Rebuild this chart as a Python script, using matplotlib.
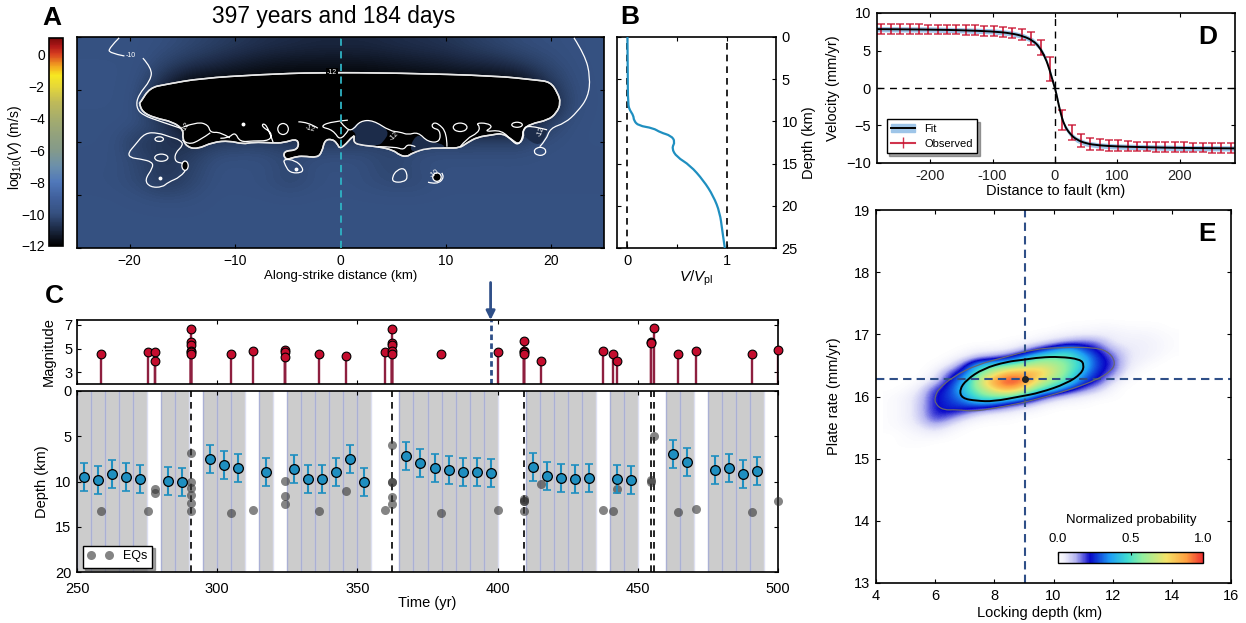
import numpy as np
import matplotlib
matplotlib.use("Agg")
import matplotlib.pyplot as plt
from matplotlib.colors import LinearSegmentedColormap
from matplotlib.lines import Line2D
from matplotlib.patches import Ellipse, Patch, PathPatch
from matplotlib.path import Path

plt.rcParams["font.family"] = ["Liberation Sans", "DejaVu Sans"]
plt.rcParams["mathtext.fontset"] = "custom"
plt.rcParams["mathtext.rm"] = "Liberation Sans"
plt.rcParams["mathtext.it"] = "Liberation Sans:italic"
plt.rcParams["font.size"] = 10.5
plt.rcParams["axes.linewidth"] = 1.2
plt.rcParams["xtick.direction"] = "in"
plt.rcParams["ytick.direction"] = "in"

W, H = 1246, 623

# panel A: log10(V) on a coarse grid, rows = depth, cols = along strike
a_xs = np.arange(-25, 25.1, 2.5)
a_ds = np.arange(0, 25.1, 2.5)
a_field = [
    [-9.9,-9.9,-9.9,-10.,-10.2,-10.4,-10.6,-10.8,-10.9,-11.,-11.,-11.,-10.9,-10.8,-10.7,-10.5,-10.3,-10.1,-10.,-9.95,-9.9],
    [-9.85,-9.85,-9.9,-10.3,-10.7,-11.,-11.3,-11.5,-11.6,-11.6,-11.6,-11.6,-11.5,-11.4,-11.3,-11.1,-11.,-10.7,-10.3,-10.,-9.9],
    [-9.85,-9.85,-9.95,-11.,-12.,-12.,-12.,-12.,-12.,-12.,-12.,-12.,-12.,-12.,-12.,-12.,-12.,-12.,-11.,-10.1,-9.9],
    [-9.85,-9.85,-10.,-12.,-12.,-12.,-12.,-12.,-12.,-12.,-12.,-12.,-12.,-12.,-12.,-12.,-12.,-12.,-12.,-10.2,-9.9],
    [-9.9,-9.9,-9.95,-10.4,-12.,-12.,-12.,-12.,-12.,-12.,-12.,-12.,-12.,-12.,-12.,-12.,-12.,-12.,-10.6,-10.,-9.9],
    [-9.9,-9.95,-10.6,-10.7,-10.8,-10.4,-10.3,-10.3,-10.5,-10.4,-10.4,-10.3,-10.3,-10.3,-10.2,-10.3,-10.2,-10.3,-10.,-9.95,-9.9],
    [-9.95,-9.95,-10.2,-10.7,-10.4,-9.95,-9.95,-9.95,-10.2,-9.95,-9.95,-10.,-10.3,-10.,-9.95,-9.95,-9.95,-9.95,-9.95,-9.95,-9.95],
    [-9.95,-10.,-10.2,-10.7,-10.3,-9.95,-9.95,-10.,-10.3,-10.,-9.95,-10.05,-10.2,-10.2,-9.95,-9.95,-9.95,-9.95,-9.95,-9.95,-9.95],
    [-9.9,-9.9,-9.95,-10.,-10.,-9.9,-9.9,-9.9,-9.9,-9.9,-9.9,-9.9,-9.9,-9.9,-9.9,-9.9,-9.9,-9.9,-9.9,-9.9,-9.9],
    [-9.9,-9.9,-9.9,-9.9,-9.9,-9.9,-9.9,-9.9,-9.9,-9.9,-9.9,-9.9,-9.9,-9.9,-9.9,-9.9,-9.9,-9.9,-9.9,-9.9,-9.9],
    [-9.9,-9.9,-9.9,-9.9,-9.9,-9.9,-9.9,-9.9,-9.9,-9.9,-9.9,-9.9,-9.9,-9.9,-9.9,-9.9,-9.9,-9.9,-9.9,-9.9,-9.9],
]

# locked patch outline (km, depth)
a_black = [(-19.0,7.8),(-18.1,6.0),(-16.5,5.6),(-13.3,4.9),(-7.6,4.45),(-2.1,4.2),(5.6,4.27),(14.8,4.6),
           (18.5,5.1),(19.9,5.3),(20.6,6.6),(20.9,7.8),(20.5,9.0),(19.7,9.85),(18.0,10.3),(17.3,11.0),
           (17.4,11.85),(16.9,12.8),(16.1,12.0),(15.3,11.4),(14.4,11.6),(13.0,11.85),(12.0,12.55),(11.3,13.15),
           (10.1,13.15),(8.2,13.15),(6.8,13.75),(6.3,14.2),(5.6,14.0),(5.0,13.4),(3.6,13.0),(1.85,12.8),
           (1.2,12.45),(1.4,11.4),(0.0,13.4),(-0.35,12.55),(-0.8,12.1),(-1.5,12.2),(-1.75,13.6),(-2.2,14.3),
           (-3.55,14.1),(-4.3,14.2),(-5.25,14.6),(-5.45,13.5),(-4.0,13.4),(-4.0,12.0),(-5.45,12.55),(-6.4,12.55),
           (-8.3,12.45),(-9.25,12.7),(-10.5,12.3),(-12.1,12.45),(-13.6,13.3),(-14.6,13.0),(-15.0,12.0),(-14.9,11.0),
           (-15.9,10.05),(-17.6,9.6),(-18.8,8.9),(-19.1,7.8),(-19.0,7.8)]
a_pockets = [
    [(0.9,11.0),(1.85,9.95),(3.1,9.85),(4.7,11.15),(4.05,12.45),(3.55,12.9),(1.85,12.8),(1.3,12.45),(1.5,11.4),(0.9,11.0)],
    [(6.6,12.8),(7.35,11.4),(8.3,12.45),(9.45,12.55),(10.1,13.15),(8.2,13.15),(6.8,13.75),(6.6,12.8)],
    [(17.3,11.0),(17.8,10.4),(19.6,10.8),(19.6,11.4),(18.9,13.0),(17.5,11.95),(17.3,11.0)],
]
a_lines = [
    [(-21.0,0.1),(-21.95,1.3),(-21.95,1.9),(-20.5,2.25)],
    [(-18.75,2.5),(-17.9,3.7),(-18.0,5.1),(-19.2,6.9),(-19.4,8.3),(-18.8,9.25),(-17.0,10.05),(-15.2,10.8)],
    [(22.15,0.1),(23.2,2.15),(23.7,4.75),(23.5,7.1),(22.45,8.9),(21.3,10.2),(19.9,10.8),(19.5,12.2),(18.9,13.0)],
    [(18.3,13.6),(18.6,13.1),(19.2,13.05),(19.55,13.5),(19.3,14.0),(18.7,14.05),(18.3,13.6)],
    [(-14.9,10.65),(-13.6,10.05),(-12.55,10.4),(-12.35,11.35),(-11.4,11.25),(-10.5,11.95)],
    [(-15.0,12.2),(-14.45,12.8),(-13.3,12.2),(-12.35,11.35)],
    [(-11.4,12.0),(-10.65,12.0),(-10.0,11.25),(-9.55,12.45),(-8.3,12.3),(-6.7,12.3),(-6.5,11.35),(-7.45,10.65),(-7.35,10.2),(-6.9,10.65),(-6.4,12.45)],
    [(-4.0,10.05),(-3.1,10.05),(-2.15,10.8)],
    [(0.7,9.85),(-1.0,10.05),(-1.95,10.65),(-0.7,11.0),(0.05,12.45),(0.75,11.0)],
    [(0,10.05),(0.6,11.0),(1.2,11.0),(1.85,9.95),(3.1,9.85),(4.7,11.15),(5.65,11.25),(6.4,11.6),(7.35,11.25),(8.3,12.45),(9.45,12.45),(9.45,11.0),(8.7,10.8),(8.7,10.2),(9.25,10.2),(10.1,11.35),(10.1,13.0)],
    [(11.35,13.0),(12.0,12.0),(13.0,11.4),(13.25,10.65),(12.85,10.2),(13.9,10.2),(14.45,10.65),(13.6,11.25),(15.3,11.0),(16.35,12.45),(16.9,12.8),(17.3,11.85),(17.3,11.0),(17.8,10.4),(19.6,11.0)],
    [(-18.55,11.35),(-17.3,11.35),(-16.15,11.85),(-15.2,12.2),(-14.9,12.8),(-15.7,13.75),(-15.7,14.8),(-14.9,14.95),(-14.45,15.4),(-15.2,16.6),(-16.35,17.2),(-16.9,17.8),(-18.05,17.8),(-18.6,16.95),(-17.8,15.5),(-17.85,14.8),(-19.0,14.45),(-19.95,14.3),(-20.15,13.75),(-19.5,12.8),(-18.55,11.35)],
    [(-5.45,14.45),(-4.3,14.6),(-3.55,15.5),(-3.65,16.1),(-4.8,16.1),(-5.25,15.2),(-5.45,14.45)],
    [(4.9,16.6),(5.35,15.75),(6.1,15.5),(6.4,16.7),(5.95,17.2),(5.0,17.2),(4.9,16.6)],
    [(8.3,17.2),(9.15,17.5),(9.9,16.6),(9.6,16.1)],
    [(3.55,13.0),(5.2,13.0),(6.0,13.4),(6.4,12.6),(7.1,13.0)],
]
# ovals: x, depth, width, height, filled black?
a_ovals = [(-5.45,10.9,1.0,1.3,False),(11.35,10.7,1.3,1.0,False),(16.75,10.4,1.0,0.6,False),(-17.2,12.1,0.8,0.55,False),
           (-17.0,14.3,1.25,0.85,False),(-14.75,15.25,0.6,1.1,True),(9.15,16.6,0.8,1.0,True)]
a_dots = [(-17.1,16.7),(-4.2,15.65),(-9.25,10.3)]
a_labels = [("-10",-19.9,2.25,0),("-12",-0.8,4.2,0),("-12",-2.9,10.9,-15),("-12",5.1,11.8,45),("-12",19.05,11.2,70),("-10",8.9,16.2,40),("-12",-14.7,10.7,60)]

# panel B
b_depth = [0,4,8,8.7,9.3,9.9,10.5,10.8,11.3,11.7,12.4,13.2,14.2,15.2,17,18.85,20.8,23,25]
b_ratio = [0.0,0.003,0.005,0.025,0.06,0.065,0.11,0.26,0.33,0.44,0.48,0.445,0.495,0.63,0.765,0.865,0.93,0.955,0.98]

# panel C
band_starts = [250,255,260,265,270,280,285,295,300,305,315,325,330,335,340,345,350,365,370,375,380,385,390,395,
               410,415,420,425,430,440,445,460,465,475,480,485,490]
win_time = [252.5,257.5,262.5,267.5,272.5,282.5,287.5,297.5,302.5,307.5,317.5,327.5,332.5,337.5,342.5,347.5,352.5,
            367.5,372.5,377.5,382.5,387.5,392.5,397.5,412.5,417.5,422.5,427.5,432.5,442.5,447.5,462.5,467.5,477.5,482.5,487.5,492.5]
win_depth = [9.5,9.8,9.2,9.5,9.75,9.9,10.1,7.5,8.2,8.55,9.0,8.65,9.7,9.7,9.0,7.5,10.05,
             7.15,8.0,8.55,8.7,9.0,9.0,9.05,8.4,9.4,9.65,9.75,9.65,9.75,9.85,6.95,7.85,8.75,8.55,9.15,8.85]
win_err = 1.55
eq_time = [258.5,275.4,277.8,277.8,290.7,290.7,290.7,290.7,290.7,290.7,305,312.8,324.2,324.2,324.2,336.3,346,359.7,
           362.5,362.5,362.5,362.5,362.5,379.7,400.2,409.5,409.5,409.5,409.5,415.4,437.6,441.3,442.5,454.6,454.6,455.7,464.3,470.8,490.7,500]
eq_mag = [4.5,4.72,4.72,3.98,6.66,5.53,5.28,4.83,4.7,4.5,4.5,4.77,4.89,4.7,4.27,4.55,4.41,4.69,
          6.66,5.5,5.28,4.77,4.5,4.5,4.72,5.62,4.83,4.75,4.55,3.96,4.77,4.55,3.98,5.53,5.45,6.72,4.52,4.77,4.55,4.89]
eq_depth = [13.3,13.3,10.8,11.3,6.8,10.0,10.7,11.5,12.4,13.3,13.5,13.1,9.9,11.6,12.5,13.3,11.0,13.1,
            6.0,10.0,10.0,11.7,12.5,13.5,13.2,11.9,12.2,12.2,13.3,10.3,13.1,13.3,10.8,9.8,10.1,5.0,13.4,13.0,13.4,12.2]
no_stem = [379.7]
big_eq_times = [290.7,362.5,409.5,454.6,455.7]
snapshot_time = 397.5

# panel D
fit_x = [-286,-200,-150,-100,-70,-50,-35,-25,-15,-8,-3,0,3,8,15,25,35,50,70,100,150,200,288]
fit_v = [7.85,7.8,7.7,7.55,7.3,6.9,6.3,5.5,4.0,2.3,0.8,0,-1,-3,-5,-6.2,-6.9,-7.4,-7.65,-7.8,-7.9,-8.0,-8.05]
obs_x = [-278,-263,-248,-233,-218,-203,-188,-173,-158,-143,-128,-113,-98,-83,-68,-53,-38,-23,-8,
         12,27,42,57,72,87,102,117,132,147,162,177,192,207,222,237,252,267,282]
obs_v = [7.9,7.9,7.9,7.85,7.85,7.8,7.8,7.8,7.8,7.75,7.7,7.65,7.6,7.5,7.35,7.1,6.65,5.4,2.55,
         -4.3,-6.0,-7.0,-7.4,-7.55,-7.65,-7.7,-7.75,-7.8,-7.8,-7.85,-7.85,-7.9,-7.9,-7.95,-7.95,-8.0,-8.0,-8.0]
obs_e = [0.65,0.65,0.65,0.65,0.65,0.65,0.65,0.65,0.65,0.65,0.65,0.65,0.7,0.7,0.7,0.75,0.85,1.0,1.65,
         1.35,1.0,0.9,0.8,0.75,0.7,0.7,0.65,0.65,0.65,0.65,0.65,0.65,0.65,0.65,0.65,0.65,0.65,0.65]

# panel E: normalized probability grid, rows y 15.125..17.375, cols x 4.5..14
e_xs = np.arange(4.5, 14.1, 0.5)
e_ys = np.arange(15.125, 17.4, 0.125)
e_prob = [
    [0]*20,
    [0,.01,.01,0,0,0,0,0,0,0,0,0,0,0,0,0,0,0,0,0],
    [0,.01,.02,.03,.01,0,0,0,0,0,0,0,0,0,0,0,0,0,0,0],
    [.01,.02,.05,.09,.04,.01,0,0,0,0,0,0,0,0,0,0,0,0,0,0],
    [.01,.03,.08,.19,.13,.05,.02,.01,.01,0,0,0,0,0,0,0,0,0,0,0],
    [.01,.03,.09,.22,.23,.18,.09,.06,.04,.02,.01,0,0,0,0,0,0,0,0,0],
    [.01,.03,.09,.22,.25,.29,.34,.3,.2,.12,.05,.02,.01,.01,0,0,0,0,0,0],
    [.01,.03,.08,.22,.27,.37,.53,.57,.55,.44,.25,.12,.07,.04,.02,.01,0,0,0,0],
    [0,.01,.05,.19,.26,.45,.6,.78,.9,.76,.55,.46,.28,.18,.1,.02,0,0,0,0],
    [0,0,.01,.07,.23,.38,.68,.9,1,.96,.72,.58,.5,.28,.22,.07,.01,0,0,0],
    [0,0,0,.03,.18,.29,.54,.7,.88,.86,.85,.69,.55,.37,.24,.17,.03,0,0,0],
    [0,0,0,.01,.05,.19,.44,.5,.56,.64,.69,.66,.57,.45,.26,.2,.06,.02,0,0],
    [0,0,0,0,.01,.05,.12,.15,.22,.37,.53,.56,.53,.42,.25,.19,.06,.04,.02,0],
    [0,0,0,0,0,.01,.03,.03,.04,.1,.22,.34,.45,.3,.22,.12,.06,.04,.03,.01],
    [0,0,0,0,0,0,0,0,.01,.02,.04,.08,.13,.17,.15,.05,.04,.04,.03,.01],
    [0,0,0,0,0,0,0,0,0,0,.01,.02,.03,.04,.04,.04,.03,.03,.02,.01],
    [0,0,0,0,0,0,0,0,0,0,0,0,.01,.01,.02,.02,.01,.01,.01,0],
    [0]*20,
    [0]*20,
]
e_inner = [(6.82,16.11),(7.06,16.27),(7.63,16.45),(8.42,16.56),(8.98,16.59),(9.54,16.63),(10.22,16.64),(10.9,16.6),(11.04,16.51),
           (10.95,16.37),(10.45,16.21),(9.54,16.06),(8.87,16.0),(7.97,15.92),(7.4,15.93),(6.9,15.97),(6.82,16.11)]
e_outer = [(5.99,16.0),(6.13,16.13),(6.61,16.32),(7.4,16.51),(8.42,16.64),(9.32,16.76),(10.22,16.79),(11.46,16.79),(11.92,16.7),(12.1,16.53),
           (11.92,16.4),(11.46,16.27),(10.68,16.13),(9.78,16.0),(8.87,15.89),(7.97,15.81),(7.3,15.76),(6.73,15.79),(6.28,15.78),(6.0,15.88),(5.99,16.0)]
best_depth = 9.03
best_rate = 16.28

vel_cmap = LinearSegmentedColormap.from_list("vel", [
    (0.0,"#000000"),(1/13,"#1b2842"),(2/13,"#35507f"),(3/13,"#40609c"),(4/13,"#5078ba"),(5/13,"#6c90aa"),
    (6/13,"#849a8a"),(7/13,"#93a27c"),(8/13,"#a6ad6c"),(9/13,"#bfba58"),(10/13,"#e6d838"),(10.7/13,"#f8e820"),
    (11.3/13,"#f2a020"),(12/13,"#d84020"),(12.5/13,"#b01818"),(1.0,"#7a0a0a")])
prob_cmap = LinearSegmentedColormap.from_list("prob", [
    (0.0,"#ffffff"),(0.05,"#ececfa"),(0.12,"#b4b4f0"),(0.18,"#5050dc"),(0.22,"#0808c8"),(0.36,"#1e9ff5"),(0.48,"#40dcd0"),
    (0.58,"#90f0a0"),(0.75,"#f5e268"),(0.885,"#ffa040"),(1.0,"#ee3030")])

NAVY = "#2f4f88"
CYAN = "#2fb3c4"
BLUE = "#1f8fc0"


def axes_px(left, top, right, bottom):
    return fig.add_axes([left/W, 1-bottom/H, (right-left)/W, (bottom-top)/H])


def text_px(x, y, s, **kw):
    kw.setdefault("ha", "center")
    kw.setdefault("va", "center")
    fig.text(x/W, 1-y/H, s, **kw)


def smooth_path(pts):
    # quadratic curves with the read points as control points
    pts = np.asarray(pts, float)
    if len(pts) < 3:
        return Path(pts)
    if np.allclose(pts[0], pts[-1]):
        body = pts[:-1]
        mids = (body + np.roll(body, -1, axis=0))/2
        verts = [mids[-1]]
        for i in range(len(body)):
            verts += [body[i], mids[i]]
    else:
        verts = [pts[0]]
        for i in range(1, len(pts)-2):
            verts += [pts[i], (pts[i]+pts[i+1])/2]
        verts += [pts[-2], pts[-1]]
    return Path(verts, [Path.MOVETO] + [Path.CURVE3]*(len(verts)-1))


def add_curve(ax, pts, color, lw, zorder=4, fill=None):
    ax.add_patch(PathPatch(smooth_path(pts), fc=fill if fill else "none", ec=color, lw=lw, zorder=zorder))


fig = plt.figure(figsize=(W/100, H/100), dpi=100)

# A
ax = axes_px(77, 37, 604, 248)
im = ax.imshow(a_field, extent=(-25, 25, 25, 0), aspect="auto", cmap=vel_cmap, vmin=-12, vmax=1, interpolation="bicubic")
add_curve(ax, a_black, "#e8e8e8", 1.1, zorder=2, fill="black")
for poly in a_pockets:
    add_curve(ax, poly, "none", 0, zorder=3, fill="#1c2c4a")
add_curve(ax, a_black, "#e8e8e8", 1.1, zorder=4)
for line in a_lines:
    add_curve(ax, line, "white", 0.9)
for ox, oy, ow, oh, filled in a_ovals:
    ax.add_patch(Ellipse((ox, oy), ow, oh, fc="black" if filled else "none", ec="white", lw=0.9, zorder=5))
ax.plot([p[0] for p in a_dots], [p[1] for p in a_dots], "o", color="white", ms=1.8, zorder=5)
for s, lx, ly, rot in a_labels:
    ax.text(lx, ly, s, color="white", fontsize=5, ha="center", va="center", rotation=rot, zorder=6,
            bbox=dict(fc="black" if s == "-12" and ly < 5 else "none", ec="none", pad=0.5))
ax.axvline(0, color=CYAN, lw=1.3, ls=(0, (4, 3)), zorder=6)
ax.set_xlim(-25, 25)
ax.set_ylim(25, 0)
ax.set_xticks([-20, -10, 0, 10, 20])
ax.set_xticklabels(["\u221220", "\u221210", "0", "10", "20"], fontsize=10)
ax.set_yticks([0, 6.25, 12.5, 18.75, 25])
ax.set_yticklabels([])
ax.tick_params(top=True, right=True, length=3, pad=4)
ax.set_xlabel("Along-strike distance (km)", fontsize=9.5)
ax.xaxis.set_label_coords(0.5, -0.104)

cax = axes_px(49, 38, 63, 246)
cb = fig.colorbar(im, cax=cax)
cb.set_ticks([0, -2, -4, -6, -8, -10, -12])
cb.set_ticklabels(["0", "\u22122", "\u22124", "\u22126", "\u22128", "\u221210", "\u221212"])
cax.yaxis.set_ticks_position("left")
cax.tick_params(length=0, pad=3, labelsize=10)
text_px(15, 148, "log$_{10}$($V$) (m/s)", rotation=90, fontsize=10)

text_px(334, 16, "397 years and 184 days", fontsize=16.4)

# B
ax = axes_px(617, 37, 776, 248)
add_curve(ax, list(zip(b_ratio, b_depth)), BLUE, 1.6)
ax.axvline(0, color="k", lw=1.2, ls=(0, (4, 3)))
ax.axvline(1, color="k", lw=1.2, ls=(0, (4, 3)))
ax.set_xlim(-0.105, 1.495)
ax.set_ylim(25, 0)
ax.set_xticks([0, 0.5, 1])
ax.set_xticklabels(["0", "", "1"])
ax.yaxis.tick_right()
ax.yaxis.set_label_position("right")
ax.set_yticks([0, 5, 10, 15, 20, 25])
ax.tick_params(top=True, left=True, right=True, length=3, pad=4)
ax.set_ylabel("Depth (km)", fontsize=10.5)
ax.yaxis.set_label_coords(1.163, 0.5)
text_px(696, 278, "$V/V_{\\mathrm{pl}}$", fontsize=11)

# C top
ax_m = axes_px(77, 320, 778, 384)
for t, m in zip(eq_time, eq_mag):
    if t not in no_stem:
        ax_m.plot([t, t], [2, m], color="#8e1f3f", lw=1.7, zorder=2)
ax_m.plot(eq_time, eq_mag, "o", color="#c40d2e", mec="k", mew=0.8, ms=6.3, zorder=3, clip_on=False)
ax_m.axvline(snapshot_time, color=NAVY, lw=2, ls=(0, (2, 1.2)))
ax_m.set_xlim(250, 500)
ax_m.set_ylim(2, 7.42)
ax_m.set_xticks([250, 300, 350, 400, 450, 500])
ax_m.set_xticklabels([])
ax_m.set_yticks([3, 5, 7])
ax_m.tick_params(top=True, right=True, length=3)
ax_m.set_ylabel("Magnitude", fontsize=10.5)
ax_m.yaxis.set_label_coords(-0.03, 0.5)
ax_m.annotate("", xy=(snapshot_time, 7.42), xytext=(0, 27), textcoords="offset points", annotation_clip=False,
              arrowprops=dict(arrowstyle="-|>", color=NAVY, lw=2, mutation_scale=13, shrinkA=0, shrinkB=0))

# C bottom
ax_d = axes_px(77, 391, 778, 572)
for s in band_starts:
    ax_d.axvspan(s, s+5, color="#cccccc", lw=0, zorder=1)
    ax_d.plot([s, s], [0, 20], color="#aab0d4", lw=1, zorder=1.5)
    ax_d.plot([s+5, s+5], [0, 20], color="#dcdff0", lw=1, zorder=1.5)
for t in big_eq_times:
    ax_d.axvline(t, color="k", lw=1.2, ls=(0, (4, 3)), zorder=2)
ax_d.plot(eq_time, eq_depth, "o", color="#333333", alpha=0.6, mec="none", ms=6.5, zorder=3, clip_on=False)
ax_d.errorbar(win_time, win_depth, yerr=win_err, fmt="none", ecolor=BLUE, elinewidth=1.5, capsize=3, capthick=1.2, zorder=4)
ax_d.plot(win_time, win_depth, "o", color=BLUE, mec="k", mew=0.9, ms=7, zorder=5)
ax_d.set_xlim(250, 500)
ax_d.set_ylim(20, 0)
ax_d.set_xticks([250, 300, 350, 400, 450, 500])
ax_d.set_yticks([0, 5, 10, 15, 20])
ax_d.tick_params(top=True, right=True, length=3, pad=4)
ax_d.tick_params(axis="x", pad=7)
ax_d.set_xlabel("Time (yr)", fontsize=10.5)
ax_d.xaxis.set_label_coords(0.5, -0.133)
ax_d.set_ylabel("Depth (km)", fontsize=10.5)
ax_d.yaxis.set_label_coords(-0.04, 0.5)
h = Line2D([], [], ls="none", marker="o", color="#333333", alpha=0.6, mec="none", ms=6.5)
leg = ax_d.legend([h], ["EQs"], numpoints=2, loc="lower left", bbox_to_anchor=(5.5/701, 4.5/181), borderaxespad=0, fancybox=False,
                  shadow=True, framealpha=1, edgecolor="k", fontsize=9)
leg.get_frame().set_linewidth(1)
leg.set_zorder(8)

# D
ax = axes_px(876.5, 13, 1234.5, 163)
ax.fill_between(fit_x, np.array(fit_v)-0.35, np.array(fit_v)+0.35, color="#9ec5e8", lw=0, zorder=1)
ax.errorbar(obs_x, obs_v, yerr=obs_e, fmt="none", ecolor="#c8102e", elinewidth=1.3, capsize=2.7, capthick=1.1, alpha=0.85, zorder=2)
add_curve(ax, list(zip(fit_x, fit_v)), "k", 1.4, zorder=3)
ax.axhline(0, color="k", lw=1, ls=(0, (5, 4)), zorder=4)
ax.axvline(0, color="k", lw=1, ls=(0, (5, 4)), zorder=4)
ax.set_xlim(-286, 288)
ax.set_ylim(-10, 10)
ax.set_xticks([-200, -100, 0, 100, 200])
ax.set_xticklabels(["-200", "-100", "0", "100", "200"], color="#222222")
ax.set_yticks([-10, -5, 0, 5, 10])
ax.set_yticklabels(["\u221210", "\u22125", "0", "5", "10"])
ax.tick_params(top=True, right=True, length=3, pad=4)
ax.set_xlabel("Distance to fault (km)", fontsize=10.5)
ax.xaxis.set_label_coords(0.5, -0.14)
ax.set_ylabel("Velocity (mm/yr)", fontsize=10.5)
ax.yaxis.set_label_coords(-0.102, 0.5)
fit_h = (Patch(color="#9ec5e8"), Line2D([], [], color="k", lw=1.4))
obs_h = ax.errorbar([], [], yerr=[], color="#c8102e", elinewidth=1, capsize=3, alpha=0.85)
leg = ax.legend([fit_h, obs_h], ["Fit", "Observed"], loc="lower left", bbox_to_anchor=(10/358, 10/150), borderaxespad=0, fancybox=False,
                shadow=True, framealpha=1, edgecolor="k", fontsize=8, labelspacing=0.45, handlelength=2.2)
leg.get_frame().set_linewidth(1)
leg.set_zorder(8)

# E
ax = axes_px(876, 210, 1231, 583)
im2 = ax.imshow(e_prob, extent=(e_xs[0]-0.25, e_xs[-1]+0.25, e_ys[0]-0.0625, e_ys[-1]+0.0625), origin="lower", aspect="auto",
                cmap=prob_cmap, vmin=0, vmax=1, interpolation="bicubic")
add_curve(ax, e_outer, "#666670", 0.9)
add_curve(ax, e_inner, "k", 1.4)
ax.axvline(best_depth, color=NAVY, lw=1.5, ls=(0, (4, 2.5)))
ax.axhline(best_rate, color=NAVY, lw=1.5, ls=(0, (4, 2.5)))
ax.plot([best_depth], [best_rate], "o", color="#222222", ms=4)
ax.set_xlim(4, 16)
ax.set_ylim(13, 19)
ax.set_xticks([4, 6, 8, 10, 12, 14, 16])
ax.set_yticks([13, 14, 15, 16, 17, 18, 19])
ax.tick_params(top=True, right=True, length=3, pad=4)
ax.set_xlabel("Locking depth (km)", fontsize=10.5)
ax.xaxis.set_label_coords(0.462, -0.062)
ax.set_ylabel("Plate rate (mm/yr)", fontsize=10.5)
ax.yaxis.set_label_coords(-0.0986, 0.5)

cax2 = axes_px(1058, 552, 1203, 563)
cb2 = fig.colorbar(im2, cax=cax2, orientation="horizontal")
cb2.set_ticks([0, 0.5, 1])
cb2.set_ticklabels(["0.0", "0.5", "1.0"])
cax2.xaxis.set_ticks_position("top")
cax2.tick_params(length=2, pad=5, labelsize=9.5)
cb2.outline.set_linewidth(1)
text_px(1131, 520, "Normalized probability", fontsize=9.5)

# panel letters
for letter, lx, ly in [("A", 52, 18), ("B", 630, 17), ("C", 54, 296), ("D", 1208, 37), ("E", 1207, 234)]:
    text_px(lx, ly, letter, fontsize=19, fontweight="bold")

fig.savefig("out.png", dpi=100)
